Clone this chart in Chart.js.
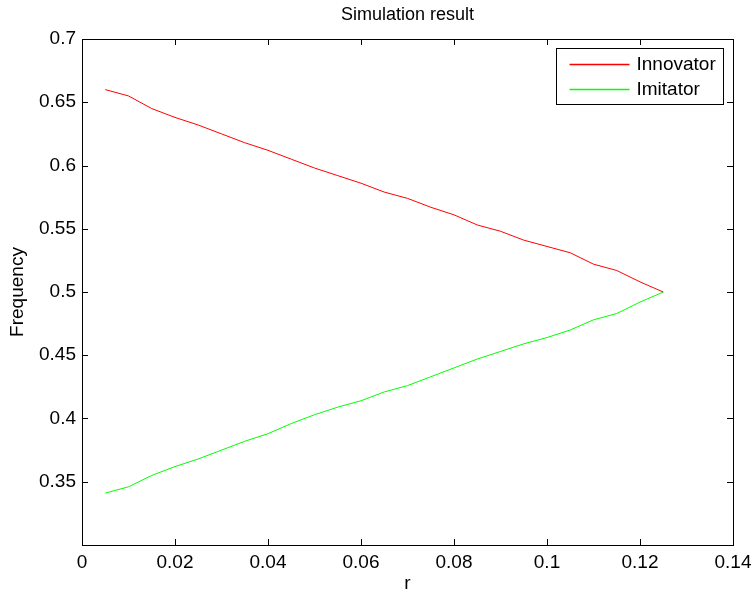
<!DOCTYPE html>
<html>
<head>
<meta charset="utf-8">
<script src="https://cdn.jsdelivr.net/npm/chart.js@4/dist/chart.umd.min.js"></script>
<style>
  html, body { margin: 0; padding: 0; background: #fff; }
  canvas { display: block; }
</style>
</head>
<body>
<canvas id="simChart" width="752" height="596"></canvas>
<script>
// valores de r (eixo x)
var rValues = [0.005, 0.01, 0.015, 0.02, 0.025, 0.03, 0.035, 0.04, 0.045, 0.05,
               0.055, 0.06, 0.065, 0.07, 0.075, 0.08, 0.085, 0.09, 0.095, 0.1,
               0.105, 0.11, 0.115, 0.12, 0.125];

// frequencia dos innovators
var innovatorFreq = [0.660, 0.655, 0.645, 0.638, 0.632, 0.625, 0.618, 0.612, 0.605, 0.598,
                     0.592, 0.586, 0.579, 0.574, 0.567, 0.561, 0.553, 0.548, 0.541, 0.536,
                     0.531, 0.522, 0.517, 0.508, 0.500];

// frequencia dos imitators
var imitatorFreq = [0.341, 0.346, 0.355, 0.362, 0.368, 0.375, 0.382, 0.388, 0.396, 0.403,
                    0.409, 0.414, 0.421, 0.426, 0.433, 0.440, 0.447, 0.453, 0.459, 0.464,
                    0.470, 0.478, 0.483, 0.492, 0.500];

var seriesNames = ['Innovator', 'Imitator'];
var seriesColors = ['#ff0000', '#00ff00'];
var xTicks = [0, 0.02, 0.04, 0.06, 0.08, 0.1, 0.12, 0.14];
var yTicks = [0.3, 0.35, 0.4, 0.45, 0.5, 0.55, 0.6, 0.65, 0.7];

var FONTE = 'Liberation Sans, Arial, Helvetica, sans-serif';

function pontos(valores) {
    return rValues.map(function(r, i) { return { x: r, y: valores[i] }; });
}

// desenha caixa, ticks internos, titulo e legenda estilo matlab
var estiloMatlab = {
    id: 'estiloMatlab',
    afterDraw: function(chart) {
        var ctx = chart.ctx;
        var area = chart.chartArea;
        var sx = chart.scales.x, sy = chart.scales.y;
        var tl = 6;
        ctx.save();
        ctx.strokeStyle = '#000';
        ctx.lineWidth = 1;
        ctx.beginPath();
        xTicks.forEach(function(v) {
            var px = Math.round(sx.getPixelForValue(v)) + 0.5;
            ctx.moveTo(px, area.bottom); ctx.lineTo(px, area.bottom - tl);
            ctx.moveTo(px, area.top); ctx.lineTo(px, area.top + tl);
        });
        yTicks.forEach(function(v) {
            var py = Math.round(sy.getPixelForValue(v)) + 0.5;
            ctx.moveTo(area.left, py); ctx.lineTo(area.left + tl, py);
            ctx.moveTo(area.right, py); ctx.lineTo(area.right - tl, py);
        });
        ctx.stroke();
        ctx.strokeRect(Math.round(area.left) + 0.5, Math.round(area.top) + 0.5,
                       Math.round(area.right - area.left), Math.round(area.bottom - area.top));

        // titulo
        ctx.fillStyle = '#000';
        ctx.font = '18px ' + FONTE;
        ctx.textAlign = 'center';
        ctx.textBaseline = 'middle';
        ctx.fillText('Simulation result', (area.left + area.right) / 2, 15);

        // legenda
        ctx.font = '19px ' + FONTE;
        var larg = 167, alt = 56;
        var bx = Math.round(area.right - 10 - larg) + 0.5;
        var by = Math.round(area.top + 9) + 0.5;
        ctx.fillStyle = '#fff';
        ctx.fillRect(bx, by, larg, alt);
        ctx.strokeStyle = '#000';
        ctx.strokeRect(bx, by, larg, alt);
        ctx.textAlign = 'left';
        seriesNames.forEach(function(nome, i) {
            var yy = by + 16 + i * 25;
            ctx.strokeStyle = seriesColors[i];
            ctx.lineWidth = 1.5;
            ctx.beginPath();
            ctx.moveTo(bx + 13, yy); ctx.lineTo(bx + 73, yy);
            ctx.stroke();
            ctx.fillStyle = '#000';
            ctx.fillText(nome, bx + 80, yy);
        });
        ctx.restore();
    }
};

var ctx = document.getElementById('simChart').getContext('2d');
var simChart = new Chart(ctx, {
    type: 'line',
    data: {
        datasets: [
            { label: seriesNames[0], data: pontos(innovatorFreq), borderColor: seriesColors[0],
              borderWidth: 1, pointRadius: 0, fill: false, tension: 0 },
            { label: seriesNames[1], data: pontos(imitatorFreq), borderColor: seriesColors[1],
              borderWidth: 1, pointRadius: 0, fill: false, tension: 0 }
        ]
    },
    options: {
        responsive: false,
        animation: false,
        layout: { padding: { top: 39, right: 19, bottom: 0, left: 0 } },
        plugins: {
            legend: { display: false },
            title: { display: false },
            tooltip: { enabled: false }
        },
        scales: {
            x: {
                type: 'linear',
                min: 0, max: 0.14,
                afterBuildTicks: function(s) { s.ticks = xTicks.map(function(v) { return { value: v }; }); },
                afterFit: function(s) { s.height = 51; s.paddingLeft = 0; s.paddingRight = 0; },
                grid: { display: false, drawTicks: false },
                border: { display: false },
                ticks: {
                    color: '#000', padding: 6, maxRotation: 0,
                    font: { family: FONTE, size: 19 },
                    callback: function(v) { return String(+v.toFixed(2)); }
                },
                title: { display: true, text: 'r', color: '#000',
                         font: { family: FONTE, size: 19 }, padding: { top: 0, bottom: 1 } }
            },
            y: {
                min: 0.3, max: 0.7,
                afterBuildTicks: function(s) { s.ticks = yTicks.map(function(v) { return { value: v }; }); },
                afterFit: function(s) { s.width = 82; s.paddingTop = 0; s.paddingBottom = 0; },
                grid: { display: false, drawTicks: false },
                border: { display: false },
                ticks: {
                    color: '#000', padding: 6,
                    font: { family: FONTE, size: 19 },
                    callback: function(v) { return v === 0.3 ? '' : String(+v.toFixed(2)); }
                },
                title: { display: true, text: 'Frequency', color: '#000',
                         font: { family: FONTE, size: 19 }, padding: { top: 6, bottom: 0 } }
            }
        }
    },
    plugins: [estiloMatlab]
});
</script>
</body>
</html>
